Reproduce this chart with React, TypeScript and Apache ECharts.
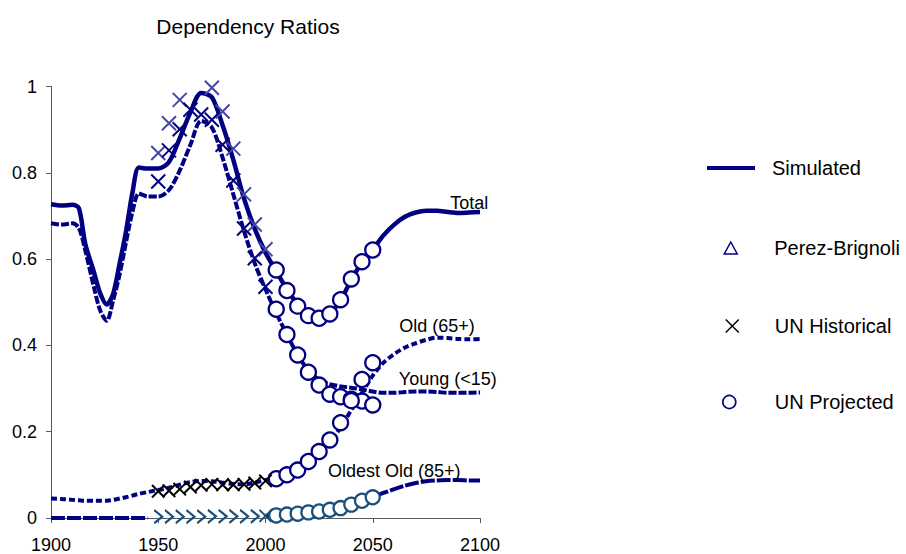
import React, { useEffect, useRef } from "react";
import * as echarts from "echarts";

// ---------- data ----------
const simYears = [1900, 1905, 1910, 1913, 1916, 1920, 1923, 1926, 1929, 1932, 1935, 1938, 1941, 1945,
  1950, 1955, 1960, 1965, 1970, 1975, 1980, 1985, 1990, 1995, 2000, 2005, 2010, 2015, 2020, 2025,
  2030, 2035, 2040, 2045, 2050, 2055, 2060, 2065, 2070, 2075, 2080, 2085, 2090, 2095, 2100];

const totalSim = [0.727, 0.724, 0.726, 0.718, 0.635, 0.57, 0.52, 0.495, 0.52, 0.59, 0.665, 0.755, 0.812, 0.81,
  0.81, 0.825, 0.88, 0.94, 0.985, 0.975, 0.91, 0.83, 0.74, 0.67, 0.615, 0.572, 0.53, 0.495, 0.472, 0.465,
  0.474, 0.505, 0.552, 0.592, 0.622, 0.655, 0.68, 0.698, 0.708, 0.712, 0.712, 0.709, 0.707, 0.708, 0.709];

const youngSim = [0.683, 0.68, 0.683, 0.672, 0.62, 0.535, 0.48, 0.457, 0.505, 0.565, 0.64, 0.71, 0.752, 0.745,
  0.745, 0.76, 0.805, 0.865, 0.92, 0.905, 0.835, 0.75, 0.665, 0.59, 0.53, 0.475, 0.425, 0.378, 0.342, 0.32,
  0.31, 0.305, 0.302, 0.298, 0.293, 0.29, 0.29, 0.292, 0.293, 0.293, 0.292, 0.29, 0.29, 0.29, 0.291];

const oldSim = [0.045, 0.044, 0.042, 0.041, 0.04, 0.04, 0.04, 0.04, 0.042, 0.045, 0.048, 0.052, 0.056, 0.06,
  0.065, 0.07, 0.077, 0.083, 0.086, 0.085, 0.082, 0.079, 0.078, 0.082, 0.088, 0.094, 0.103, 0.114, 0.13, 0.15,
  0.175, 0.21, 0.25, 0.29, 0.33, 0.36, 0.38, 0.395, 0.405, 0.413, 0.418, 0.417, 0.415, 0.414, 0.415];

const oldestSim: (number | null)[] = [0, 0, 0, 0, 0, 0, 0, 0, 0, 0, 0, 0, 0, 0,
  null, null, null, null, null, null, null, null, null, null, 0.005, 0.007, 0.008, 0.01, 0.012, 0.015,
  0.019, 0.023, 0.03, 0.039, 0.048, 0.058, 0.067, 0.075, 0.081, 0.085, 0.087, 0.088, 0.088, 0.087, 0.087];

const histYears = [1950, 1955, 1960, 1965, 1970, 1975, 1980, 1985, 1990, 1995, 2000];
const totalHist = [0.846, 0.915, 0.969, 1.02, 1.025, 0.997, 0.942, 0.856, 0.75, 0.68, 0.623];
const youngHist = [0.78, 0.852, 0.901, 0.946, 0.935, 0.923, 0.865, 0.782, 0.671, 0.602, 0.536];
const oldHist = [0.062, 0.063, 0.067, 0.072, 0.076, 0.078, 0.077, 0.077, 0.078, 0.081, 0.086];
const oldestHist = [0.003, 0.003, 0.003, 0.003, 0.003, 0.004, 0.004, 0.004, 0.004, 0.004, 0.005];

const projYears = [2005, 2010, 2015, 2020, 2025, 2030, 2035, 2040, 2045, 2050];
const totalProj = [0.575, 0.527, 0.491, 0.469, 0.463, 0.473, 0.506, 0.554, 0.594, 0.621];
const youngProj = [0.484, 0.425, 0.378, 0.338, 0.308, 0.287, 0.281, 0.275, 0.271, 0.262];
const oldProj = [0.091, 0.1, 0.111, 0.131, 0.154, 0.181, 0.221, 0.272, 0.321, 0.36];
const oldestProj = [0.006, 0.008, 0.01, 0.013, 0.015, 0.019, 0.023, 0.031, 0.04, 0.048];

const perezYears: number[] = [];
const perezVals: number[] = [];

const xTicks = { min: 1900, max: 2100, step: 50 };
const yTicks = { min: 0, max: 1, step: 0.2 };

const legendNames = ["Simulated", "Perez-Brignoli", "UN Historical", "UN Projected"];
const lineLabels = [
  { name: "Total", year: 2095 },
  { name: "Old (65+)", year: 2080 },
  { name: "Young (<15)", year: 2085 },
  { name: "Oldest Old (85+)", year: 2060 },
];

// ---------- styles ----------
const NAVY = "#000080";
const LIGHT = "#4646a6";
const TEAL = "#1a4f7c";
const FONT = "'Liberation Sans', Arial, sans-serif";
const X_PATH = "path://M0,0L10,10M10,0L0,10";
const CHEV_PATH = "path://M0,0L7,7L0,14";

function linePts(vals: (number | null)[], label?: { name: string; year: number }, dist = 0) {
  return simYears.map((y, i) => {
    const v = vals[i] === null ? "-" : vals[i];
    if (label && y === label.year) {
      return {
        value: [y, v],
        label: { show: true, position: "top", distance: dist, formatter: label.name },
      };
    }
    return [y, v];
  });
}

function pairs(years: number[], vals: number[]) {
  return years.map((y, i) => [y, vals[i]]);
}

function buildOption(): any {
  const lineBase = {
    type: "line",
    smooth: 0.3,
    symbol: "circle",
    symbolSize: 0,
    showSymbol: true,
    silent: true,
    z: 2,
    label: { color: "#000", fontSize: 18, fontFamily: FONT },
    itemStyle: { color: NAVY },
  };
  const circleStyle = (c: string) => ({ color: "#fff", borderColor: c, borderWidth: 2.3, opacity: 1 });
  const xStyle = (c: string, w = 2) => ({ color: "transparent", borderColor: c, borderWidth: w, opacity: 1 });
  return {
    animation: false,
    textStyle: { fontFamily: FONT },
    title: {
      text: "Dependency Ratios",
      left: 248,
      top: 16,
      textAlign: "center",
      padding: 0,
      textStyle: { fontSize: 21, fontWeight: "normal", color: "#000", fontFamily: FONT },
    },
    grid: { left: 51, right: 426, top: 86.5, bottom: 34, containLabel: false },
    xAxis: {
      type: "value",
      min: xTicks.min,
      max: xTicks.max,
      interval: xTicks.step,
      splitLine: { show: false },
      axisLine: { show: true, lineStyle: { color: "#5a5a5a", width: 1 } },
      axisTick: { show: true, length: 5, lineStyle: { color: "#5a5a5a" } },
      axisLabel: {
        color: "#000", fontSize: 18, margin: 18, fontFamily: FONT,
        formatter: (v: number) => String(v),
      },
    },
    yAxis: {
      type: "value",
      min: yTicks.min,
      max: yTicks.max,
      interval: yTicks.step,
      splitLine: { show: false },
      axisLine: { show: true, lineStyle: { color: "#5a5a5a", width: 1 } },
      axisTick: { show: true, length: 5, lineStyle: { color: "#5a5a5a" } },
      axisLabel: {
        color: "#000", fontSize: 18, margin: 14, fontFamily: FONT,
        formatter: (v: number) => String(Math.round(v * 10) / 10),
      },
    },
    legend: [
      {
        data: [{ name: legendNames[0], icon: "rect" }],
        left: 707, top: 158, padding: 0, itemWidth: 48, itemHeight: 4,
        itemStyle: { color: NAVY, borderWidth: 0 },
        textStyle: { fontSize: 20, color: "#000", fontFamily: FONT, padding: [0, 0, 0, 12] },
        selectedMode: false,
      },
      {
        data: [{ name: legendNames[1], icon: "triangle" }],
        left: 723.5, top: 238, padding: 0, itemWidth: 13, itemHeight: 12,
        itemStyle: { color: "#fff", borderColor: NAVY, borderWidth: 1.5 },
        textStyle: { fontSize: 20, color: "#000", fontFamily: FONT, padding: [0, 0, 0, 32] },
        selectedMode: false,
      },
      {
        data: [{ name: legendNames[2], icon: X_PATH }],
        left: 725, top: 316, padding: 0, itemWidth: 13, itemHeight: 13,
        itemStyle: { color: "transparent", borderColor: "#000", borderWidth: 1.5 },
        textStyle: { fontSize: 20, color: "#000", fontFamily: FONT, padding: [0, 0, 0, 31] },
        selectedMode: false,
      },
      {
        data: [{ name: legendNames[3], icon: "circle" }],
        left: 722, top: 392, padding: 0, itemWidth: 13, itemHeight: 13,
        itemStyle: { color: "#fff", borderColor: NAVY, borderWidth: 1.6 },
        textStyle: { fontSize: 20, color: "#000", fontFamily: FONT, padding: [0, 0, 0, 34] },
        selectedMode: false,
      },
    ],
    series: [
      {
        ...lineBase,
        name: legendNames[0],
        data: linePts(totalSim, lineLabels[0], 0),
        lineStyle: { color: NAVY, width: 4.5 },
      },
      {
        ...lineBase,
        name: "Young simulated",
        data: linePts(youngSim, lineLabels[2], 5),
        lineStyle: { color: NAVY, width: 4, type: [8, 2] },
      },
      {
        ...lineBase,
        name: "Old simulated",
        data: linePts(oldSim, lineLabels[1], 3),
        lineStyle: { color: NAVY, width: 4, type: [6, 3] },
      },
      {
        ...lineBase,
        name: "Oldest simulated",
        clip: false,
        connectNulls: false,
        data: linePts(oldestSim, lineLabels[3], 9),
        lineStyle: { color: NAVY, width: 4, type: [14, 2] },
      },
      {
        type: "scatter",
        name: legendNames[1],
        symbol: "triangle",
        symbolSize: 12,
        itemStyle: { color: "#fff", borderColor: NAVY, borderWidth: 1.5, opacity: 1 },
        data: pairs(perezYears, perezVals),
        z: 3,
      },
      {
        type: "scatter",
        name: "UN Projected (young)",
        symbol: "circle",
        symbolSize: 15,
        itemStyle: circleStyle(NAVY),
        data: pairs(projYears, youngProj),
        z: 3,
      },
      {
        type: "scatter",
        name: "UN Projected (old)",
        symbol: "circle",
        symbolSize: 15,
        itemStyle: circleStyle(NAVY),
        data: pairs(projYears, oldProj),
        z: 3,
      },
      {
        type: "scatter",
        name: legendNames[3],
        symbol: "circle",
        symbolSize: 15,
        itemStyle: circleStyle(NAVY),
        data: pairs(projYears, totalProj),
        z: 3,
      },
      {
        type: "scatter",
        name: "UN Projected (oldest)",
        symbol: "circle",
        symbolSize: 14,
        itemStyle: circleStyle(TEAL),
        data: pairs(projYears, oldestProj),
        z: 3,
      },
      {
        type: "scatter",
        name: "UN Historical (total)",
        symbol: X_PATH,
        symbolSize: 14,
        clip: true,
        itemStyle: xStyle(LIGHT),
        data: pairs(histYears, totalHist),
        z: 4,
      },
      {
        type: "scatter",
        name: "UN Historical (young)",
        symbol: X_PATH,
        symbolSize: 14,
        itemStyle: xStyle(NAVY),
        data: pairs(histYears, youngHist),
        z: 4,
      },
      {
        type: "scatter",
        name: legendNames[2],
        symbol: X_PATH,
        symbolSize: 12.5,
        itemStyle: xStyle("#000"),
        data: pairs(histYears, oldHist),
        z: 4,
      },
      {
        type: "scatter",
        name: "UN Historical (oldest)",
        symbol: CHEV_PATH,
        symbolSize: [8, 13],
        clip: false,
        itemStyle: xStyle(TEAL),
        data: histYears.map((y, i) =>
          y === 2000
            ? { value: [y, oldestHist[i]], symbol: X_PATH, symbolSize: 12 }
            : [y, oldestHist[i]]
        ),
        z: 4,
      },
    ],
  };
}

export default function App() {
  const ref = useRef<HTMLDivElement>(null);
  useEffect(() => {
    if (!ref.current) return;
    const chart = echarts.init(ref.current, null, { renderer: "svg" });
    chart.setOption(buildOption());
    return () => chart.dispose();
  }, []);
  return (
    <div
      ref={ref}
      style={{ position: "fixed", left: 0, top: 0, width: 906, height: 554, background: "#fff" }}
    />
  );
}
